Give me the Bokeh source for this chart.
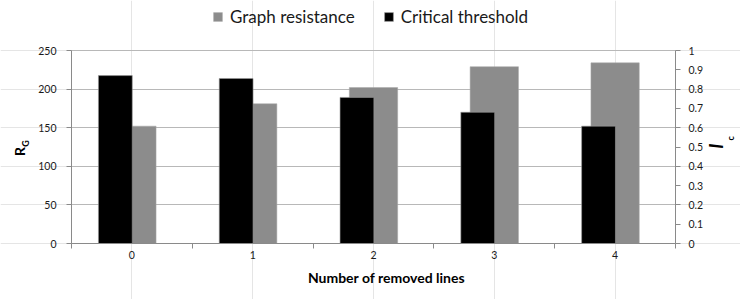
import math
from bokeh.plotting import figure
from bokeh.models import (Range1d, LinearAxis, FixedTicker, Legend, LegendItem, Grid)
from bokeh.core.properties import value
from bokeh.embed import file_html
from bokeh.resources import INLINE

categories = ["0", "1", "2", "3", "4"]
graph_resistance = [152, 181, 202, 229, 234]
critical_threshold = [0.87, 0.855, 0.757, 0.68, 0.608]
left_ticks = [0, 50, 100, 150, 200, 250]
right_ticks = [0, 0.1, 0.2, 0.3, 0.4, 0.5, 0.6, 0.7, 0.8, 0.9, 1]

FONT = "Lato"
GRAY = "#8c8c8c"
AXIS_C = "#8a8a8a"
GRID_C = "#b8b8b8"
TXT_C = "#1a1a1a"

W, H = 740, 299
# plot area in page pixels
PL, PR, PT, PB = 71, 675, 50, 243
n = len(categories)
xs = list(range(n))
xpx = (PR - PL) / n
x0 = -0.5 - PL / xpx
x1 = n - 0.5 + (W - PR) / xpx
ypx = (PB - PT) / left_ticks[-1]
y0 = -(H - PB) / ypx
y1 = left_ticks[-1] + PT / ypx
rpx = (PB - PT) / right_ticks[-1]
r0 = -(H - PB) / rpx
r1 = right_ticks[-1] + PT / rpx

p = figure(width=W, height=H, output_backend="svg", toolbar_location=None,
           x_range=Range1d(x0, x1), y_range=Range1d(y0, y1),
           x_axis_location=None, y_axis_location=None,
           min_border=0, min_border_left=0, min_border_right=0,
           min_border_top=0, min_border_bottom=0)
p.extra_y_ranges = {"thr": Range1d(r0, r1)}
p.outline_line_color = None
p.background_fill_color = "white"
p.border_fill_color = "white"

grid = Grid(dimension=1, ticker=FixedTicker(ticks=left_ticks[1:]), grid_line_color=GRID_C,
            cross_bounds=(-0.5, n - 0.5))
p.add_layout(grid)

# bars
r_gray = p.vbar(x=xs, top=graph_resistance, width=0.40, fill_color=GRAY,
                line_color="#a8a8a8", line_alpha=0.5, line_width=1)
bx = [x - 0.137 for x in xs]
r_black = p.vbar(x=bx, top=critical_threshold, width=0.28, fill_color="black",
                 line_color="#9a9a9a", line_alpha=0.6, line_width=1, y_range_name="thr")

# x axis
xa = LinearAxis(fixed_location=0, bounds=(-0.5, n - 0.5),
                ticker=FixedTicker(ticks=xs, minor_ticks=[x - 0.5 for x in xs] + [xs[-1] + 0.5]))
xa.major_label_overrides = {i: c for i, c in zip(xs, categories)}
xa.major_tick_out = 0
xa.major_tick_in = 0
xa.major_tick_line_color = None
xa.minor_tick_out = 5
xa.minor_tick_in = 0
xa.minor_tick_line_color = AXIS_C
xa.axis_line_color = AXIS_C
xa.major_label_text_font = FONT
xa.major_label_text_font_size = "10.5px"
xa.major_label_text_color = TXT_C
xa.major_label_standoff = 2
p.add_layout(xa, "below")

# left axis
ya = LinearAxis(fixed_location=-0.5, bounds=(0, left_ticks[-1]), ticker=FixedTicker(ticks=left_ticks))
ya.major_tick_out = 5
ya.major_tick_in = 0
ya.minor_tick_line_color = None
ya.axis_line_color = AXIS_C
ya.major_tick_line_color = AXIS_C
ya.major_label_text_font = FONT
ya.major_label_text_font_size = "10.5px"
ya.major_label_text_color = TXT_C
ya.major_label_standoff = 10
p.add_layout(ya, "left")

# right axis
ra = LinearAxis(y_range_name="thr", fixed_location=n - 0.5, bounds=(0, right_ticks[-1]),
                ticker=FixedTicker(ticks=right_ticks))
ra.major_label_overrides = {0: "0", 1: "1"}
ra.major_tick_out = 5
ra.major_tick_in = 0
ra.minor_tick_line_color = None
ra.axis_line_color = AXIS_C
ra.major_tick_line_color = AXIS_C
ra.major_label_text_font = FONT
ra.major_label_text_font_size = "10.5px"
ra.major_label_text_color = TXT_C
ra.major_label_standoff = 8
p.add_layout(ra, "right")


# rotated axis titles, drawn as labels of bare axes (no line, no ticks)
def title_axis(side, xloc, center_py, text, size, standoff, style="bold", orient=None):
    c = (PB - center_py) / ypx
    ax = LinearAxis(fixed_location=xloc, bounds=(0, 2 * c), ticker=FixedTicker(ticks=[]),
                    axis_line_color=None, major_tick_line_color=None, minor_tick_line_color=None,
                    major_tick_out=0, minor_tick_out=0, major_tick_in=0, minor_tick_in=0,
                    axis_label=text, axis_label_text_font=FONT, axis_label_text_font_style=style,
                    axis_label_text_font_size=size, axis_label_text_color="black",
                    axis_label_standoff=standoff)
    if orient is not None:
        ax.axis_label_orientation = orient
    p.add_layout(ax, side)


title_axis("left", -0.5, 151, "R", "14px", 44)
title_axis("left", -0.5, 143, "G", "9px", 41)
title_axis("right", n - 0.5, 148, "l", "19px", 40, style="bold italic", orient=math.pi / 2)
title_axis("right", n - 0.5, 140, "c", "9px", 55, orient=math.pi / 2)

# x axis title
p.text(x=[x0 + 386 / xpx], y=[y0 + (H - 277) / ypx], text=["Number of removed lines"],
       text_font=value(FONT), text_font_style="bold", text_font_size="14px",
       text_color="black", text_align="center", text_baseline="middle")

legend = Legend(items=[LegendItem(label="Graph resistance", renderers=[r_gray]),
                       LegendItem(label="Critical threshold", renderers=[r_black])],
                orientation="horizontal", location=(212, H - 27),
                label_text_font=FONT, label_text_font_size="17px", label_text_color=TXT_C,
                glyph_width=11, glyph_height=11, label_standoff=7, spacing=28,
                border_line_color=None, background_fill_alpha=0, padding=0, margin=0)
p.add_layout(legend)

open("out.html", "w").write(file_html(p, INLINE))
